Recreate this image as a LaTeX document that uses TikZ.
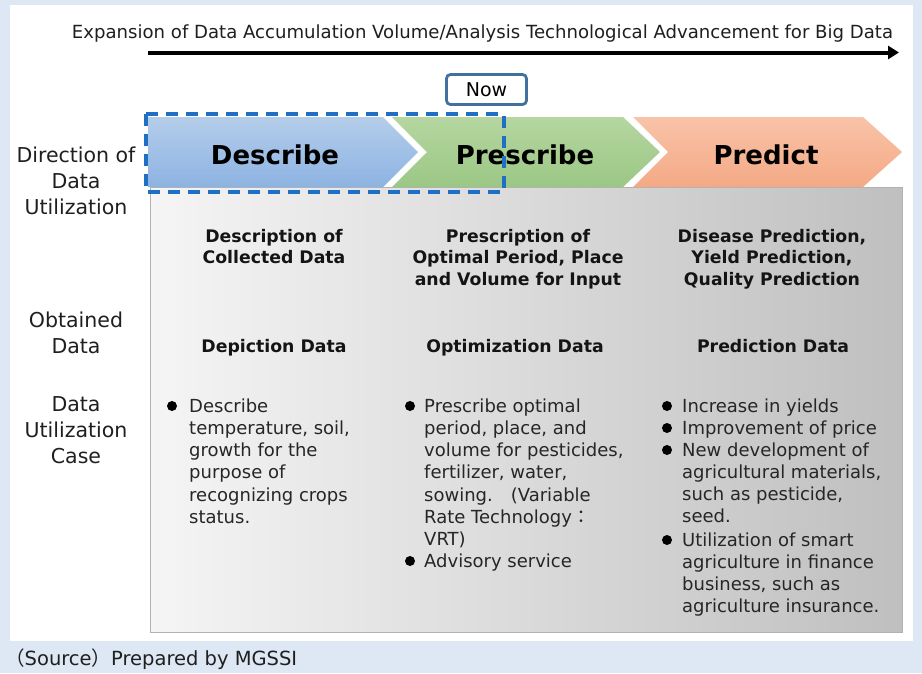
\documentclass[tikz,border=0pt]{standalone}
\usepackage{fontspec}
\setmainfont{DejaVu Sans}
\newfontfamily\cjkfont{Noto Sans CJK JP}
\usetikzlibrary{arrows.meta}

\definecolor{pageblue}{HTML}{DEE8F5}
\definecolor{nowblue}{HTML}{41719C}
\definecolor{dashblue}{HTML}{1F6FC5}
\definecolor{descTop}{HTML}{B4CDEA}
\definecolor{descBot}{HTML}{8DB3E2}
\definecolor{presTop}{HTML}{B5D6A0}
\definecolor{presBot}{HTML}{9BC785}
\definecolor{predTop}{HTML}{F9C3A8}
\definecolor{predBot}{HTML}{F4A985}

\begin{document}
\begin{tikzpicture}[x=1pt,y=-1pt,
  side/.style={align=center, anchor=north, inner sep=0pt, text=black!88,
    font=\fontsize{20.5}{26}\selectfont},
  colhead/.style={align=center, anchor=north, inner sep=0pt, text=black!92,
    font=\bfseries\fontsize{17.3}{21.5}\selectfont},
  stage/.style={inner sep=0pt, anchor=base, font=\bfseries\fontsize{26}{30}\selectfont},
  item/.style={align=left, anchor=north west, inner sep=0pt, text=black!85,
    font=\fontsize{18}{22.2}\selectfont},
  dot/.style={circle, fill=black, inner sep=0pt, minimum size=10pt}]

% page and white panel
\fill[pageblue] (0,0) rectangle (922,673);
\fill[white] (10,5) rectangle (913,641);
\useasboundingbox (0,0) rectangle (922,673);

% time axis
\node[anchor=base, inner sep=0pt, font=\fontsize{18.1}{22}\selectfont, text=black!88] (axistext) at (482.5,38)
  {Expansion of Data Accumulation Volume/Analysis Technological Advancement for Big Data};
\coordinate (axisL) at (148,52.5);
\coordinate (axisR) at (899,52.5);
\draw[line width=4pt, -{Triangle[length=11pt,width=13pt]}] (axisL) -- (axisR);

% grey body
\shade[left color=black!4, right color=black!25, draw=black!30] (150,187) rectangle (902,632);

% chevrons
\shade[top color=descTop, bottom color=descBot] (148,117) -- (383,117) -- (418,152) -- (383,187) -- (148,187) -- cycle;
\shade[top color=presTop, bottom color=presBot] (392,117) -- (623,117) -- (660,152) -- (623,187) -- (392,187) -- (427,152) -- cycle;
\shade[top color=predTop, bottom color=predBot] (633,117) -- (863,117) -- (902,152) -- (863,187) -- (633,187) -- (668,152) -- cycle;
\node[stage] (describe) at (275,164) {Describe};
\node[stage] (prescribe) at (525,164) {Prescribe};
\node[stage] (predict) at (766,164) {Predict};

% current stage
\draw[dashblue, line width=3.5pt, dash pattern=on 12pt off 8pt] (146,114) rectangle (504,192);
\node[draw=nowblue, line width=2.8pt, rounded corners=4pt, fill=white, minimum width=80pt,
  minimum height=30pt, inner sep=0pt, font=\fontsize{19}{22}\selectfont] (now) at (486.5,89.5) {Now};

% row titles
\node[side] (dirlabel) at (76,147) {Direction of\\Data\\Utilization};
\node[side] (oblabel) at (76,312) {Obtained\\Data};
\node[side] (caselabel) at (76,396) {Data\\Utilization\\Case};

% column heads
\node[colhead] (desc1) at (274,229) {Description of\\Collected Data};
\node[colhead] (pres1) at (518,229) {Prescription of\\Optimal Period, Place\\and Volume for Input};
\node[colhead] (pred1) at (772,229) {Disease Prediction,\\Yield Prediction,\\Quality Prediction};
\node[colhead] (desc2) at (274,339) {Depiction Data};
\node[colhead] (pres2) at (515,339) {Optimization Data};
\node[colhead] (pred2) at (773,339) {Prediction Data};

% cases
\node[dot] (d1) at (172,406) {};
\node[item] (desc3) at (189,398.5) {Describe\\temperature, soil,\\growth for the\\purpose of\\recognizing crops\\status.};

\node[dot] (p1) at (410,406) {};
\node[item] (pres3) at (424,398.5) {Prescribe optimal\\period, place, and\\volume for pesticides,\\fertilizer, water,\\sowing.{\cjkfont　}(Variable\\Rate Technology{\cjkfont：}\\VRT)};
\node[dot] (p2) at (410,561) {};
\node[item] (pres4) at (424,553.5) {Advisory service};

\node[dot] (q1) at (667,406) {};
\node[item] (pred3) at (682,398.5) {Increase in yields};
\node[dot] (q2) at (667,428) {};
\node[item] (pred4) at (682,420.5) {Improvement of price};
\node[dot] (q3) at (667,450) {};
\node[item] (pred5) at (682,442.5) {New development of\\agricultural materials,\\such as pesticide,\\seed.};
\node[dot] (q4) at (667,540) {};
\node[item] (pred6) at (682,532.5) {Utilization of smart\\agriculture in finance\\business, such as\\agriculture insurance.};

% source
\node[anchor=base west, inner sep=0pt, text=black!88, font=\fontsize{19.5}{22}\selectfont] (source) at (5,665)
  {{\cjkfont（}Source{\cjkfont）}Prepared by MGSSI};
\end{tikzpicture}
\end{document}
